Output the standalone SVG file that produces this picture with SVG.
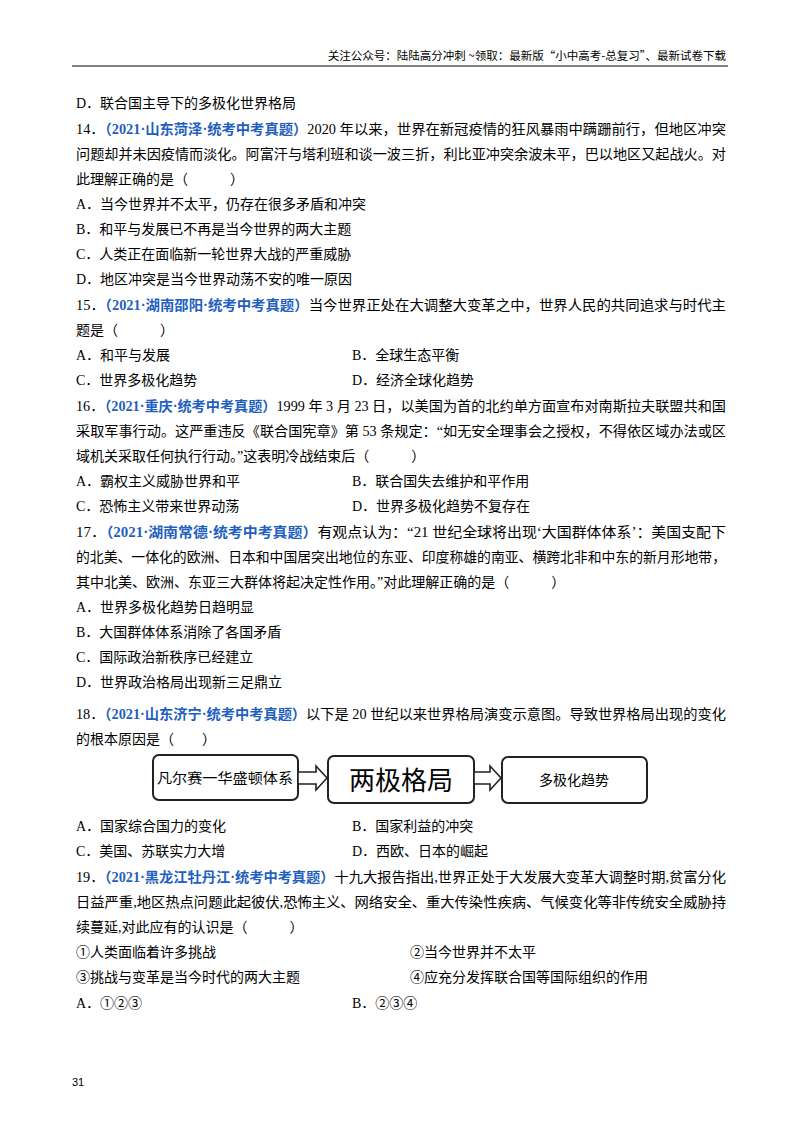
<svg xmlns="http://www.w3.org/2000/svg" width="800" height="1132" viewBox="0 0 800 1132">
<style>
text{font-family:"Liberation Serif","Noto Sans CJK SC",serif;font-size:14px;fill:#000}
.b{fill:#1f5fbf;font-weight:bold}
.h{font-family:"Noto Sans CJK SC",sans-serif;font-size:11.5px}
.bx{fill:#fff;stroke:#222;stroke-width:2}
.ar{fill:#fff;stroke:#222;stroke-width:1.6}
</style>
<rect width="800" height="1132" fill="#fff"/>
<text class="h" x="726" y="60" text-anchor="end">关注公众号：陆陆高分冲刺 ~领取：最新版“小中高考-总复习”、最新试卷下载</text>
<line x1="72" y1="66" x2="728" y2="66" stroke="#000" stroke-width="1"/>
<g id="text">
<text x="76" y="108">D．联合国主导下的多极化世界格局</text>
<text x="76" y="134" textLength="650" lengthAdjust="spacingAndGlyphs">14．<tspan class="b">（2021·山东菏泽·统考中考真题）</tspan>2020 年以来，世界在新冠疫情的狂风暴雨中蹒跚前行，但地区冲突</text>
<text x="76" y="159" textLength="650" lengthAdjust="spacingAndGlyphs">问题却并未因疫情而淡化。阿富汗与塔利班和谈一波三折，利比亚冲突余波未平，巴以地区又起战火。对</text>
<text x="76" y="184">此理解正确的是（　　　）</text>
<text x="76" y="209">A．当今世界并不太平，仍存在很多矛盾和冲突</text>
<text x="76" y="234">B．和平与发展已不再是当今世界的两大主题</text>
<text x="76" y="259">C．人类正在面临新一轮世界大战的严重威胁</text>
<text x="76" y="284">D．地区冲突是当今世界动荡不安的唯一原因</text>
<text x="76" y="310" textLength="650" lengthAdjust="spacingAndGlyphs">15．<tspan class="b">（2021·湖南邵阳·统考中考真题）</tspan>当今世界正处在大调整大变革之中，世界人民的共同追求与时代主</text>
<text x="76" y="335">题是（　　　）</text>
<text x="76" y="360">A．和平与发展</text><text x="352" y="360">B．全球生态平衡</text>
<text x="76" y="385">C．世界多极化趋势</text><text x="352" y="385">D．经济全球化趋势</text>
<text x="76" y="411" textLength="650" lengthAdjust="spacingAndGlyphs">16．<tspan class="b">（2021·重庆·统考中考真题）</tspan>1999 年 3 月 23 日，以美国为首的北约单方面宣布对南斯拉夫联盟共和国</text>
<text x="76" y="436" textLength="650" lengthAdjust="spacingAndGlyphs">采取军事行动。这严重违反《联合国宪章》第 53 条规定：“如无安全理事会之授权，不得依区域办法或区</text>
<text x="76" y="461">域机关采取任何执行行动。”这表明冷战结束后（　　　）</text>
<text x="76" y="486">A．霸权主义威胁世界和平</text><text x="352" y="486">B．联合国失去维护和平作用</text>
<text x="76" y="511">C．恐怖主义带来世界动荡</text><text x="352" y="511">D．世界多极化趋势不复存在</text>
<text x="76" y="537" textLength="650" lengthAdjust="spacingAndGlyphs">17．<tspan class="b">（2021·湖南常德·统考中考真题）</tspan>有观点认为：“21 世纪全球将出现‘大国群体体系’：美国支配下</text>
<text x="76" y="562" textLength="650" lengthAdjust="spacingAndGlyphs">的北美、一体化的欧洲、日本和中国居突出地位的东亚、印度称雄的南亚、横跨北非和中东的新月形地带，</text>
<text x="76" y="587">其中北美、欧洲、东亚三大群体将起决定性作用。”对此理解正确的是（　　　）</text>
<text x="76" y="612">A．世界多极化趋势日趋明显</text>
<text x="76" y="637">B．大国群体体系消除了各国矛盾</text>
<text x="76" y="662">C．国际政治新秩序已经建立</text>
<text x="76" y="687">D．世界政治格局出现新三足鼎立</text>
<text x="76" y="719" textLength="650" lengthAdjust="spacingAndGlyphs">18．<tspan class="b">（2021·山东济宁·统考中考真题）</tspan>以下是 20 世纪以来世界格局演变示意图。导致世界格局出现的变化</text>
<text x="76" y="744">的根本原因是（　　）</text>
<text x="76" y="831">A．国家综合国力的变化</text><text x="352" y="831">B．国家利益的冲突</text>
<text x="76" y="856">C．美国、苏联实力大增</text><text x="352" y="856">D．西欧、日本的崛起</text>
<text x="76" y="882" textLength="650" lengthAdjust="spacingAndGlyphs">19．<tspan class="b">（2021·黑龙江牡丹江·统考中考真题）</tspan>十九大报告指出,世界正处于大发展大变革大调整时期,贫富分化</text>
<text x="76" y="907" textLength="650" lengthAdjust="spacingAndGlyphs">日益严重,地区热点问题此起彼伏,恐怖主义、网络安全、重大传染性疾病、气候变化等非传统安全威胁持</text>
<text x="76" y="932">续蔓延,对此应有的认识是（　　　）</text>
<text x="76" y="957">①人类面临着许多挑战</text><text x="410" y="957">②当今世界并不太平</text>
<text x="76" y="982">③挑战与变革是当今时代的两大主题</text><text x="410" y="982">④应充分发挥联合国等国际组织的作用</text>
<text x="76" y="1008">A．①②③</text><text x="352" y="1008">B．②③④</text>
<text x="72" y="1086" style="font-size:11px;font-family:'Liberation Sans',sans-serif">31</text>
</g>
<g id="node1"><rect class="bx" x="153" y="755" width="145" height="45" rx="6"/><text x="225" y="783" text-anchor="middle" textLength="136" lengthAdjust="spacingAndGlyphs" style="font-size:14px;font-family:'Noto Sans CJK SC',sans-serif">凡尔赛一华盛顿体系</text></g>
<g id="node2"><rect class="bx" x="328" y="756" width="146" height="47" rx="6"/><text x="401" y="790" text-anchor="middle" style="font-size:26px">两极格局</text></g>
<g id="node3"><rect class="bx" x="502" y="757" width="145" height="46" rx="6"/><text x="574" y="785" text-anchor="middle" style="font-size:14px">多极化趋势</text></g>
<g id="connectors">
<path class="ar" d="M298,772 H316 V766 L327,778 L316,790 V784 H298 Z"/>
<path class="ar" d="M474,772 H490 V766 L501,778 L490,790 V784 H474 Z"/>
</g>
</svg>
